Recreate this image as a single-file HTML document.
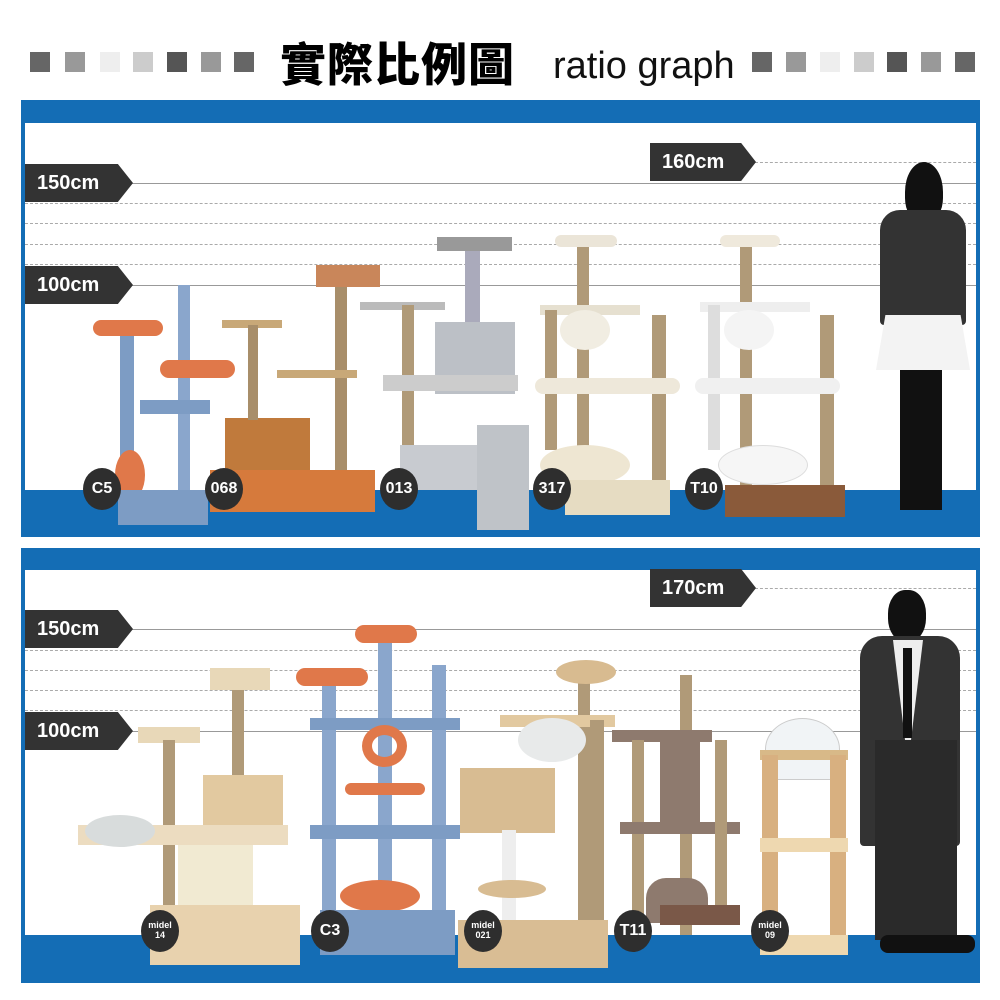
<!DOCTYPE html>
<html><head><meta charset="utf-8"><style>
*{margin:0;padding:0;box-sizing:border-box}
body{width:1000px;height:1000px;background:#fff;position:relative;overflow:hidden;font-family:"Liberation Sans","Noto Sans CJK TC",sans-serif}
.a{position:absolute}
.sq{position:absolute;top:52px;width:20px;height:20px}
.panel{position:absolute;left:21px;width:959px;background:#146db5}
.inner{position:absolute;left:4px;right:4px;background:#fff}
.sl{position:absolute;height:1px;background:#999}
.dl{position:absolute;height:0;border-top:1px dashed #aaa}
.tag{position:absolute;height:38px;background:#333;color:#fff;font-weight:bold;font-size:20px;line-height:38px;padding-left:12px;clip-path:polygon(0 0,86% 0,100% 50%,86% 100%,0 100%)}
.badge{position:absolute;width:38px;height:42px;border-radius:50%;background:#2e2e2e;color:#fff;font-weight:bold;font-size:16px;text-align:center;line-height:42px}
.sm{font-size:9px;line-height:10px;padding-top:10px}
</style></head><body>
<!-- header squares -->
<div class="sq" style="left:30px;background:#666"></div><div class="sq" style="left:65px;background:#999"></div><div class="sq" style="left:100px;background:#eee"></div><div class="sq" style="left:133px;background:#ccc"></div><div class="sq" style="left:167px;background:#555"></div><div class="sq" style="left:201px;background:#999"></div><div class="sq" style="left:234px;background:#666"></div>
<div class="sq" style="left:752px;background:#666"></div><div class="sq" style="left:786px;background:#999"></div><div class="sq" style="left:820px;background:#eee"></div><div class="sq" style="left:854px;background:#ccc"></div><div class="sq" style="left:887px;background:#555"></div><div class="sq" style="left:921px;background:#999"></div><div class="sq" style="left:955px;background:#666"></div>
<div class="a" style="left:280px;top:34px;font-size:46px;font-weight:900;color:#000;letter-spacing:1px;font-family:'Noto Sans CJK TC',sans-serif;line-height:56px">實際比例圖</div>
<div class="a" style="left:553px;top:44px;font-size:38px;color:#111;line-height:44px">ratio graph</div>

<!-- panel 1 -->
<div class="panel" style="top:100px;height:437px">
 <div class="inner" style="top:23px;height:367px"></div>
</div>
<div class="sl" style="left:130px;width:846px;top:183px"></div>
<div class="dl" style="left:25px;width:951px;top:203px"></div>
<div class="dl" style="left:25px;width:951px;top:223px"></div>
<div class="dl" style="left:25px;width:951px;top:244px"></div>
<div class="dl" style="left:25px;width:951px;top:264px"></div>
<div class="sl" style="left:130px;width:846px;top:285px"></div>
<div class="dl" style="left:755px;width:221px;top:162px"></div>
<div class="tag" style="left:25px;top:164px;width:108px">150cm</div>
<div class="tag" style="left:25px;top:266px;width:108px">100cm</div>
<div class="tag" style="left:650px;top:143px;width:106px">160cm</div>

<!-- trees panel 1 -->
<div class="a" style="left:120px;top:335px;width:14px;height:180px;background:#7d9cc4"></div>
<div class="a" style="left:93px;top:320px;width:70px;height:16px;background:#e0784a;border-radius:8px"></div>
<div class="a" style="left:178px;top:285px;width:12px;height:220px;background:#8aa6cc"></div>
<div class="a" style="left:160px;top:360px;width:75px;height:18px;background:#e0784a;border-radius:9px"></div>
<div class="a" style="left:140px;top:400px;width:70px;height:14px;background:#7d9cc4"></div>
<div class="a" style="left:115px;top:450px;width:30px;height:50px;background:#e0784a;border-radius:50%"></div>
<div class="a" style="left:118px;top:490px;width:90px;height:35px;background:#7d9cc4"></div>
<div class="a" style="left:225px;top:418px;width:85px;height:72px;background:#c07a3c"></div>
<div class="a" style="left:210px;top:470px;width:165px;height:42px;background:#d67a3c"></div>
<div class="a" style="left:335px;top:280px;width:12px;height:190px;background:#a88e6a"></div>
<div class="a" style="left:316px;top:265px;width:64px;height:22px;background:#c9865a"></div>
<div class="a" style="left:277px;top:370px;width:80px;height:8px;background:#c8a878"></div>
<div class="a" style="left:222px;top:320px;width:60px;height:8px;background:#c8a878"></div>
<div class="a" style="left:248px;top:325px;width:10px;height:95px;background:#a88e6a"></div>
<div class="a" style="left:465px;top:240px;width:15px;height:90px;background:#aab"></div>
<div class="a" style="left:437px;top:237px;width:75px;height:14px;background:#999"></div>
<div class="a" style="left:360px;top:302px;width:85px;height:8px;background:#bbb"></div>
<div class="a" style="left:402px;top:305px;width:12px;height:140px;background:#b09a78"></div>
<div class="a" style="left:435px;top:322px;width:80px;height:72px;background:#bcc0c6"></div>
<div class="a" style="left:383px;top:375px;width:135px;height:16px;background:#ccc"></div>
<div class="a" style="left:400px;top:445px;width:80px;height:45px;background:#c8cbd0"></div>
<div class="a" style="left:477px;top:425px;width:52px;height:105px;background:#bfc3c8"></div>
<div class="a" style="left:577px;top:240px;width:12px;height:270px;background:#b09a78"></div>
<div class="a" style="left:555px;top:235px;width:62px;height:12px;background:#ebe5d8;border-radius:6px"></div>
<div class="a" style="left:540px;top:305px;width:100px;height:10px;background:#e6e0d0"></div>
<div class="a" style="left:545px;top:310px;width:12px;height:140px;background:#b09a78"></div>
<div class="a" style="left:652px;top:315px;width:14px;height:185px;background:#b09a78"></div>
<div class="a" style="left:560px;top:310px;width:50px;height:40px;background:#f1ede2;border-radius:50%"></div>
<div class="a" style="left:535px;top:378px;width:145px;height:16px;background:#eee8da;border-radius:8px"></div>
<div class="a" style="left:540px;top:445px;width:90px;height:40px;background:#eee6d2;border-radius:50%"></div>
<div class="a" style="left:565px;top:480px;width:105px;height:35px;background:#e6dcc2"></div>
<div class="a" style="left:740px;top:240px;width:12px;height:270px;background:#b09a78"></div>
<div class="a" style="left:720px;top:235px;width:60px;height:12px;background:#efe9dc;border-radius:6px"></div>
<div class="a" style="left:700px;top:302px;width:110px;height:10px;background:#eee"></div>
<div class="a" style="left:708px;top:305px;width:12px;height:145px;background:#ddd"></div>
<div class="a" style="left:820px;top:315px;width:14px;height:190px;background:#b09a78"></div>
<div class="a" style="left:724px;top:310px;width:50px;height:40px;background:#f4f4f4;border-radius:50%"></div>
<div class="a" style="left:695px;top:378px;width:145px;height:16px;background:#f0f0f0;border-radius:8px"></div>
<div class="a" style="left:718px;top:445px;width:90px;height:40px;background:#f6f6f6;border:1px solid #ddd;border-radius:50%"></div>
<div class="a" style="left:725px;top:485px;width:120px;height:32px;background:#8a5a3a"></div>
<!-- woman -->
<div class="a" style="left:905px;top:162px;width:38px;height:60px;background:#111;border-radius:50% 50% 40% 40%"></div>
<div class="a" style="left:880px;top:210px;width:86px;height:115px;background:#333;border-radius:20px 20px 4px 4px"></div>
<div class="a" style="left:876px;top:315px;width:94px;height:55px;background:#f3f3f3;clip-path:polygon(10% 0,90% 0,100% 100%,0 100%)"></div>
<div class="a" style="left:900px;top:370px;width:42px;height:140px;background:#111"></div>
<div class="badge" style="left:83px;top:468px">C5</div>
<div class="badge" style="left:205px;top:468px">068</div>
<div class="badge" style="left:380px;top:468px">013</div>
<div class="badge" style="left:533px;top:468px">317</div>
<div class="badge" style="left:685px;top:468px">T10</div>

<!-- panel 2 -->
<div class="panel" style="top:548px;height:435px">
 <div class="inner" style="top:22px;height:365px"></div>
</div>
<div class="dl" style="left:755px;width:221px;top:588px"></div>
<div class="sl" style="left:130px;width:846px;top:629px"></div>
<div class="dl" style="left:25px;width:951px;top:650px"></div>
<div class="dl" style="left:25px;width:951px;top:670px"></div>
<div class="dl" style="left:25px;width:951px;top:690px"></div>
<div class="dl" style="left:25px;width:951px;top:710px"></div>
<div class="sl" style="left:130px;width:846px;top:731px"></div>
<div class="tag" style="left:25px;top:610px;width:108px">150cm</div>
<div class="tag" style="left:25px;top:712px;width:108px">100cm</div>
<div class="tag" style="left:650px;top:569px;width:106px">170cm</div>

<!-- trees panel 2 -->
<div class="a" style="left:232px;top:680px;width:12px;height:150px;background:#b09a78"></div>
<div class="a" style="left:210px;top:668px;width:60px;height:22px;background:#e8d8b8"></div>
<div class="a" style="left:138px;top:727px;width:62px;height:16px;background:#e8d8b8"></div>
<div class="a" style="left:163px;top:740px;width:12px;height:180px;background:#b09a78"></div>
<div class="a" style="left:203px;top:775px;width:80px;height:62px;background:#e2c9a0"></div>
<div class="a" style="left:78px;top:825px;width:210px;height:20px;background:#ecdcc0"></div>
<div class="a" style="left:85px;top:815px;width:70px;height:32px;background:#d8dcdc;border-radius:50%"></div>
<div class="a" style="left:178px;top:845px;width:75px;height:60px;background:#f1ead2"></div>
<div class="a" style="left:150px;top:905px;width:150px;height:60px;background:#e8d2ae"></div>
<div class="a" style="left:322px;top:680px;width:14px;height:250px;background:#8aa6cc"></div>
<div class="a" style="left:378px;top:635px;width:14px;height:280px;background:#8aa6cc"></div>
<div class="a" style="left:432px;top:665px;width:14px;height:260px;background:#8aa6cc"></div>
<div class="a" style="left:296px;top:668px;width:72px;height:18px;background:#e0784a;border-radius:9px"></div>
<div class="a" style="left:355px;top:625px;width:62px;height:18px;background:#e0784a;border-radius:9px"></div>
<div class="a" style="left:310px;top:718px;width:150px;height:12px;background:#7d9cc4"></div>
<div class="a" style="left:362px;top:725px;width:45px;height:42px;border:10px solid #e0784a;border-radius:50%"></div>
<div class="a" style="left:345px;top:783px;width:80px;height:12px;background:#e0784a;border-radius:6px"></div>
<div class="a" style="left:310px;top:825px;width:150px;height:14px;background:#7d9cc4"></div>
<div class="a" style="left:340px;top:880px;width:80px;height:32px;background:#e0784a;border-radius:50%"></div>
<div class="a" style="left:320px;top:910px;width:135px;height:45px;background:#7d9cc4"></div>
<div class="a" style="left:578px;top:680px;width:12px;height:240px;background:#b09a78"></div>
<div class="a" style="left:556px;top:660px;width:60px;height:24px;background:#d8bb90;border-radius:50%"></div>
<div class="a" style="left:500px;top:715px;width:115px;height:12px;background:#e2c9a0"></div>
<div class="a" style="left:518px;top:718px;width:68px;height:44px;background:#e8eaea;border-radius:50%"></div>
<div class="a" style="left:460px;top:768px;width:95px;height:65px;background:#d8bc92"></div>
<div class="a" style="left:502px;top:830px;width:14px;height:110px;background:#eee"></div>
<div class="a" style="left:478px;top:880px;width:68px;height:18px;background:#d8bc92;border-radius:50%"></div>
<div class="a" style="left:590px;top:720px;width:14px;height:220px;background:#b09a78"></div>
<div class="a" style="left:458px;top:920px;width:150px;height:48px;background:#d9bd94"></div>
<div class="a" style="left:680px;top:675px;width:12px;height:260px;background:#b09a78"></div>
<div class="a" style="left:612px;top:730px;width:100px;height:12px;background:#8e7a6e"></div>
<div class="a" style="left:632px;top:740px;width:12px;height:180px;background:#b09a78"></div>
<div class="a" style="left:660px;top:740px;width:40px;height:90px;background:#8e7a6e"></div>
<div class="a" style="left:620px;top:822px;width:120px;height:12px;background:#8e7a6e"></div>
<div class="a" style="left:715px;top:740px;width:12px;height:180px;background:#b09a78"></div>
<div class="a" style="left:646px;top:878px;width:62px;height:45px;background:#8e7a6e;border-radius:20px 20px 0 0"></div>
<div class="a" style="left:660px;top:905px;width:80px;height:20px;background:#7a5848"></div>
<div class="a" style="left:765px;top:718px;width:75px;height:62px;border:1px solid #ccc;border-radius:50% 50% 10% 10%;background:#f1f4f6"></div>
<div class="a" style="left:760px;top:750px;width:88px;height:10px;background:#d8b988"></div>
<div class="a" style="left:762px;top:755px;width:16px;height:190px;background:#d8b080"></div>
<div class="a" style="left:830px;top:755px;width:16px;height:190px;background:#d8b080"></div>
<div class="a" style="left:760px;top:838px;width:88px;height:14px;background:#eed8b0"></div>
<div class="a" style="left:760px;top:935px;width:88px;height:20px;background:#eed8b0"></div>
<!-- man -->
<div class="a" style="left:888px;top:590px;width:38px;height:52px;background:#111;border-radius:45%"></div>
<div class="a" style="left:860px;top:636px;width:100px;height:210px;background:#333;border-radius:22px 22px 4px 4px"></div>
<div class="a" style="left:893px;top:640px;width:30px;height:100px;background:#eee;clip-path:polygon(0 0,100% 0,60% 100%,40% 100%)"></div>
<div class="a" style="left:903px;top:648px;width:9px;height:90px;background:#111"></div>
<div class="a" style="left:875px;top:740px;width:82px;height:200px;background:#2a2a2a"></div>
<div class="a" style="left:880px;top:935px;width:95px;height:18px;background:#111;border-radius:8px"></div>
<div class="badge sm" style="left:141px;top:910px">midel<br>14</div>
<div class="badge" style="left:311px;top:910px">C3</div>
<div class="badge sm" style="left:464px;top:910px">midel<br>021</div>
<div class="badge" style="left:614px;top:910px">T11</div>
<div class="badge sm" style="left:751px;top:910px">midel<br>09</div>
</body></html>
